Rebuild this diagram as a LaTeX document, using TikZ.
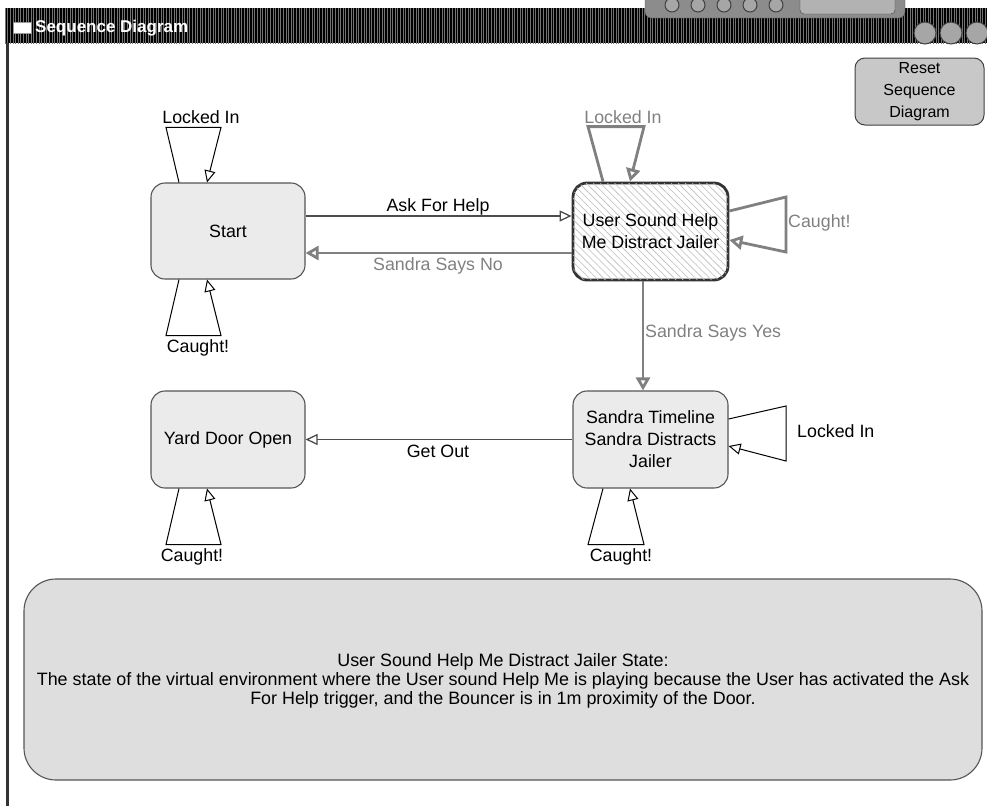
\documentclass[tikz,border=0pt]{standalone}
\usepackage{fontspec}
\setmainfont{Liberation Sans}
\usetikzlibrary{arrows.meta,patterns.meta}
\definecolor{nodefill}{HTML}{EBEBEB}
\definecolor{nodeedge}{HTML}{555555}
\definecolor{hiedge}{HTML}{333333}
\definecolor{inact}{HTML}{808080}
\definecolor{resetfill}{HTML}{C8C8C8}
\definecolor{infofill}{HTML}{DEDEDE}
\definecolor{hatch}{HTML}{BDBDBD}
\begin{document}
\begin{tikzpicture}[x=1pt,y=-1pt,
  txt/.style={font=\fontsize{17.8}{22}\selectfont},
  state/.style={txt, draw=nodeedge, line width=1.1pt, fill=nodefill, rounded corners=14pt,
    minimum width=154pt, minimum height=96pt, align=center, inner sep=0pt},
  lbl/.style={txt, inner sep=0pt},
  glbl/.style={txt, inner sep=0pt, text=inact},
  tip/.style={-{Triangle[length=12pt,width=11pt,fill=white]}},
  gtip/.style={-{Triangle[length=13pt,width=14pt,fill=white]}},
  blk/.style={draw=black, line width=1pt, tip},
  thinedge/.style={draw=black!70, line width=1.3pt, tip},
  gry/.style={draw=inact, line width=2.8pt, gtip},
]
\useasboundingbox (0,0) rectangle (987,806);
% title bar
\fill[black] (5,8) rectangle (987,43);
\fill[pattern={Lines[angle=90,distance=2.6pt,line width=0.9pt]}, pattern color=black!55] (5,8) rectangle (987,43);
\draw[fill=white, draw=black!40] (13,22) rectangle (31,33);
\node[font=\bfseries\fontsize{17}{17}\selectfont, text=white, anchor=west, inner sep=0pt] (title) at (35,28) {Sequence Diagram};
\draw[fill=black!45, draw=black!70, rounded corners=6pt] (645,-8) rectangle (905,18);
\foreach \cx in {672,698,724,750,776} \draw[black!75, line width=1pt, fill=black!35] (\cx,5) circle (7);
\draw[black!75, fill=black!30, rounded corners=4pt] (800,-4) rectangle (895,14);
\foreach \cx in {925,951,977} \draw[fill=black!35, draw=black!75, line width=1pt] (\cx,33) circle (11);
% left border
\fill[black!80] (6,43) rectangle (9,806);

% states
\node[state] (start) at (228,231) {Start};
\node[state, minimum width=155pt, minimum height=97pt, draw=hiedge, line width=2.8pt, fill=white,
  postaction={pattern={Lines[angle=-45,distance=5pt,line width=0.6pt]}, pattern color=hatch}]
  (help) at (650.5,231.5) {User Sound Help\\Me Distract Jailer};
\node[state, minimum width=155pt, minimum height=97pt] (timeline) at (650.5,439.5) {Sandra Timeline\\Sandra Distracts\\Jailer};
\node[state, minimum height=97pt] (yard) at (228,439.5) {Yard Door Open};

% reset button
\node[txt, font=\fontsize{16}{22}\selectfont, draw=black!75, line width=1pt, fill=resetfill, rounded corners=10pt,
  minimum width=129pt, minimum height=67pt, align=center, inner sep=0pt] (reset) at (919.5,91.5) {Reset\\Sequence\\Diagram};

% info panel
\node[draw=nodeedge, line width=1.1pt, fill=infofill, rounded corners=32pt, minimum width=958pt, minimum height=201pt] (info) at (503,679.5) {};
\node[txt, font=\fontsize{17.9}{19}\selectfont, align=center, inner sep=0pt] (infotext) at (503,681)
  {User Sound Help Me Distract Jailer State:\\The state of the virtual environment where the User sound Help Me is playing because the User has activated the Ask\\For Help trigger, and the Bouncer is in 1m proximity of the Door.};

% transitions
\draw[thinedge] ([yshift=15pt]start.east) -- ([yshift=15pt]start.east -| help.west);
\node[lbl] (lask) at (438,207) {Ask For Help};
\draw[gry] ([yshift=-21.5pt]help.west) -- ([yshift=-21.5pt]help.west -| start.east);
\node[glbl] (lno) at (438,266) {Sandra Says No};
\draw[gry] ([xshift=-7.5pt]help.south) -- ([xshift=-7.5pt]help.south |- timeline.north);
\node[glbl, anchor=west] (lyes) at (645,333) {Sandra Says Yes};
\draw[thinedge] (timeline.west) -- (yard.east);
\node[lbl] (lout) at (438,451) {Get Out};

% self loops
\draw[blk] ([xshift=-49pt]start.north) -- ++(-13,-55) -- ++(55,0) -- ([xshift=-21pt]start.north);
\node[lbl] (ls1) at (201,117) {Locked In};
\draw[blk] ([xshift=-49pt]start.south) -- ++(-13,56) -- ++(55,0) -- ([xshift=-21pt]start.south);
\node[lbl] (ls2) at (198,348) {Caught!};

\draw[gry] ([xshift=-47.5pt]help.north) -- ++(-15,-55) -- ++(56,0) -- ([xshift=-20.5pt]help.north);
\node[glbl] (lh1) at (623,117) {Locked In};
\draw[gry] ([yshift=20.5pt]help.east) -- (786,197) -- (786,252) -- ([yshift=-8.5pt]help.east);
\node[glbl, anchor=west] (lh2) at (788,223) {Caught!};

\draw[blk] ([yshift=20.5pt]timeline.east) -- (786,406) -- (786,461) -- ([yshift=-6.5pt]timeline.east);
\node[lbl, anchor=west] (lt1) at (797,431) {Locked In};
\draw[blk] ([xshift=-47.5pt]timeline.south) -- ++(-15,56) -- ++(56,0) -- ([xshift=-20.5pt]timeline.south);
\node[lbl] (lt2) at (621,557) {Caught!};

\draw[blk] ([xshift=-49pt]yard.south) -- ++(-13,56) -- ++(55,0) -- ([xshift=-21pt]yard.south);
\node[lbl] (ly1) at (192,557) {Caught!};
\end{tikzpicture}
\end{document}
